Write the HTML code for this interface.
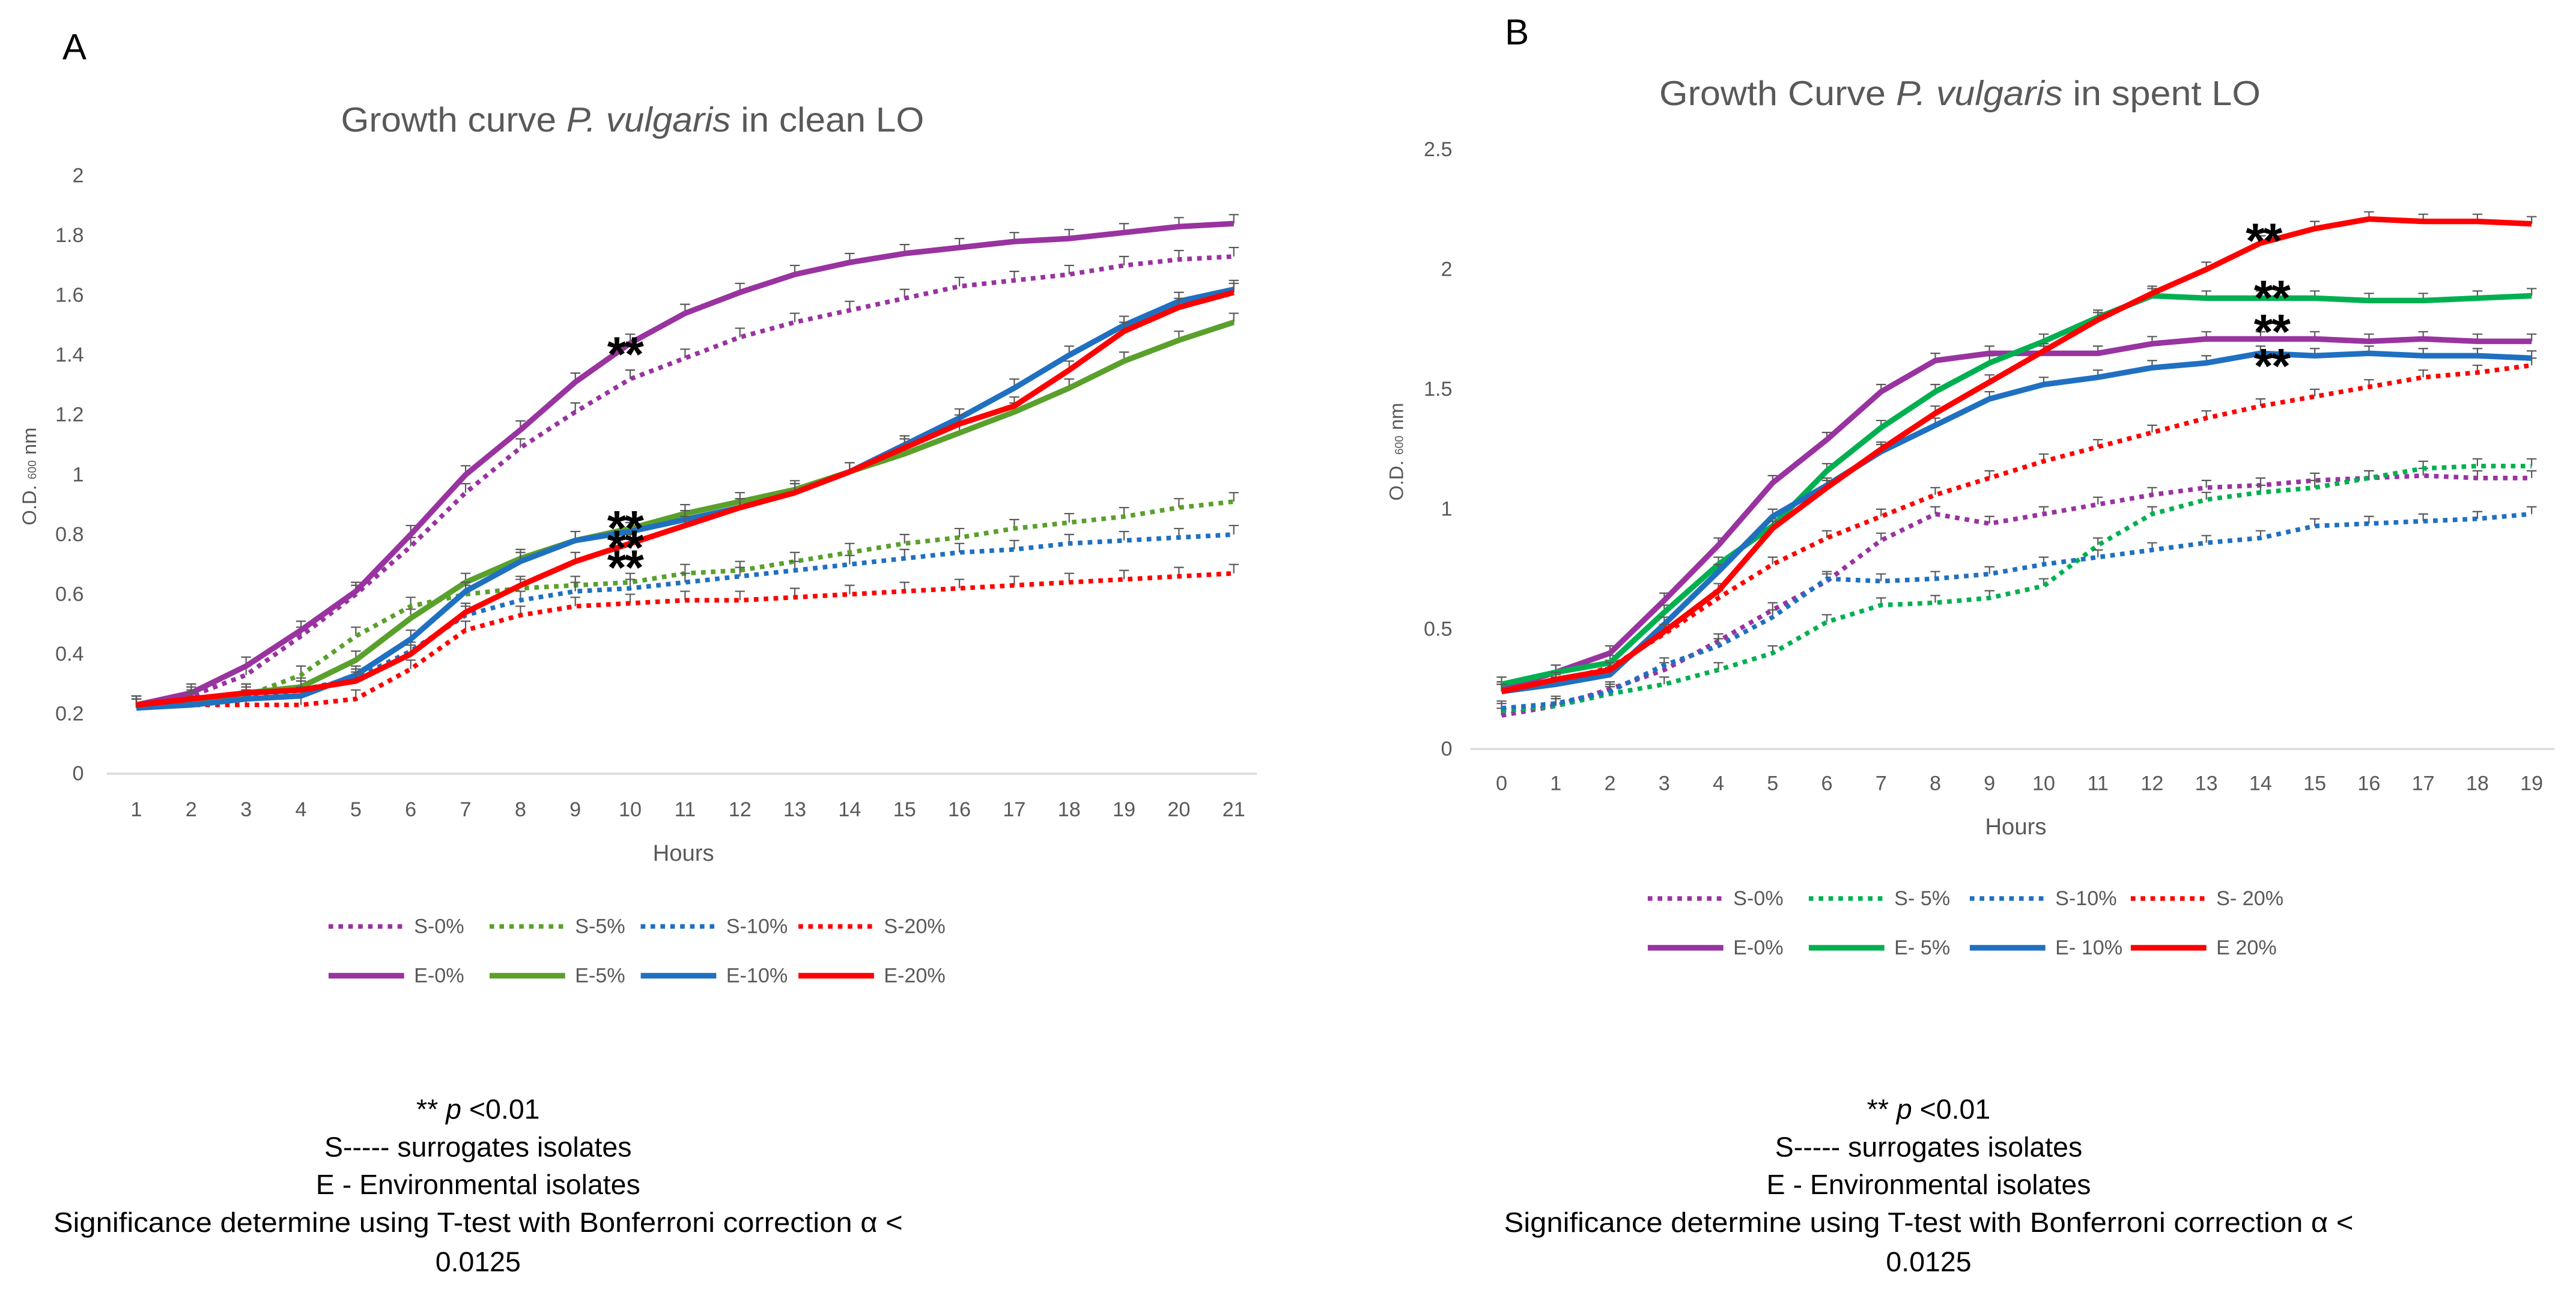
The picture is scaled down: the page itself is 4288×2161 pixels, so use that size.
<!DOCTYPE html>
<html><head><meta charset="utf-8"><style>
html,body{margin:0;padding:0;background:#fff;}
svg{display:block;}
text{font-family:"Liberation Sans",sans-serif;}
</style></head><body>
<svg id="fig" width="4288" height="2161" viewBox="0 0 1568 790.2" preserveAspectRatio="none" xmlns="http://www.w3.org/2000/svg">
<rect width="1568" height="791" fill="#fff"/>
<text x="38" y="36" font-size="22" fill="#000">A</text>
<text x="916" y="27" font-size="22" fill="#000">B</text>
<text x="385" y="80" font-size="21" fill="#595959" text-anchor="middle" textLength="355" lengthAdjust="spacingAndGlyphs">Growth curve <tspan font-style="italic">P. vulgaris</tspan> in clean LO</text>
<text x="1193" y="64" font-size="21" fill="#595959" text-anchor="middle" textLength="366" lengthAdjust="spacingAndGlyphs">Growth Curve  <tspan font-style="italic">P. vulgaris</tspan> in spent LO</text>
<text x="416" y="524" font-size="14" fill="#595959" text-anchor="middle">Hours</text>
<text x="1227" y="508" font-size="14" fill="#595959" text-anchor="middle">Hours</text>
<text transform="translate(22,290) rotate(-90)" font-size="12" fill="#595959" text-anchor="middle">O.D. <tspan font-size="7">600</tspan> nm</text>
<text transform="translate(854,275) rotate(-90)" font-size="12" fill="#595959" text-anchor="middle">O.D. <tspan font-size="7">600</tspan> nm</text>
<g id="gA"></g>
<g id="gB"></g>
<g font-size="17" fill="#000" text-anchor="middle">
<text x="291" y="681">** <tspan font-style="italic">p</tspan> &lt;0.01</text>
<text x="291" y="704">S----- surrogates isolates</text>
<text x="291" y="727">E - Environmental isolates</text>
<text x="291" y="750" textLength="517" lengthAdjust="spacingAndGlyphs">Significance determine using T-test with Bonferroni correction α &lt;</text>
<text x="291" y="774">0.0125</text>
</g>
<g font-size="17" fill="#000" text-anchor="middle">
<text x="1174" y="681">** <tspan font-style="italic">p</tspan> &lt;0.01</text>
<text x="1174" y="704">S----- surrogates isolates</text>
<text x="1174" y="727">E - Environmental isolates</text>
<text x="1174" y="750" textLength="517" lengthAdjust="spacingAndGlyphs">Significance determine using T-test with Bonferroni correction α &lt;</text>
<text x="1174" y="774">0.0125</text>
</g>
</svg>
<script>
const hoursA=[1,2,3,4,5,6,7,8,9,10,11,12,13,14,15,16,17,18,19,20,21];
const yTicksA=[0,0.2,0.4,0.6,0.8,1,1.2,1.4,1.6,1.8,2];
const yTickLabelsA=["0","0.2","0.4","0.6","0.8","1","1.2","1.4","1.6","1.8","2"];
const aS0=[.23,.26,.33,.46,.60,.76,.94,1.09,1.21,1.32,1.39,1.46,1.51,1.55,1.59,1.63,1.65,1.67,1.70,1.72,1.73];
const aS5=[.23,.24,.26,.33,.46,.56,.60,.62,.63,.64,.67,.68,.71,.74,.77,.79,.82,.84,.86,.89,.91];
const aS10=[.22,.23,.25,.28,.32,.41,.53,.58,.61,.62,.64,.66,.68,.70,.72,.74,.75,.77,.78,.79,.80];
const aS20=[.23,.23,.23,.23,.25,.35,.48,.53,.56,.57,.58,.58,.59,.60,.61,.62,.63,.64,.65,.66,.67];
const aE0=[.23,.27,.36,.48,.61,.80,1.0,1.15,1.31,1.44,1.54,1.61,1.67,1.71,1.74,1.76,1.78,1.79,1.81,1.83,1.84];
const aE5=[.22,.24,.27,.29,.38,.52,.64,.72,.78,.82,.87,.91,.95,1.01,1.07,1.14,1.21,1.29,1.38,1.45,1.51];
const aE10=[.22,.23,.25,.26,.33,.45,.61,.71,.78,.81,.85,.89,.94,1.01,1.10,1.19,1.29,1.40,1.50,1.58,1.62];
const aE20=[.23,.25,.27,.28,.31,.40,.54,.63,.71,.77,.83,.89,.94,1.01,1.09,1.17,1.23,1.35,1.48,1.56,1.61];

const hoursB=[0,1,2,3,4,5,6,7,8,9,10,11,12,13,14,15,16,17,18,19];
const yTicksB=[0,0.5,1,1.5,2,2.5];
const yTickLabelsB=["0","0.5","1","1.5","2","2.5"];
const bS0=[.14,.18,.25,.33,.45,.58,.70,.87,.98,.94,.98,1.02,1.06,1.09,1.10,1.12,1.13,1.14,1.13,1.13];
const bS5=[.16,.18,.23,.27,.33,.40,.53,.60,.61,.63,.68,.85,.98,1.04,1.07,1.09,1.13,1.17,1.18,1.18];
const bS10=[.17,.19,.24,.35,.43,.55,.71,.70,.71,.73,.77,.80,.83,.86,.88,.93,.94,.95,.96,.98];
const bS20=[.25,.28,.34,.48,.63,.77,.88,.97,1.06,1.13,1.20,1.26,1.32,1.38,1.43,1.47,1.51,1.55,1.57,1.60];
const bE0=[.25,.32,.40,.62,.85,1.11,1.29,1.49,1.62,1.65,1.65,1.65,1.69,1.71,1.71,1.71,1.70,1.71,1.70,1.70];
const bE5=[.27,.32,.36,.57,.77,.93,1.16,1.34,1.49,1.61,1.70,1.80,1.89,1.88,1.88,1.88,1.87,1.87,1.88,1.89];
const bE10=[.24,.27,.31,.52,.74,.97,1.10,1.24,1.35,1.46,1.52,1.55,1.59,1.61,1.65,1.64,1.65,1.64,1.64,1.63];
const bE20=[.24,.29,.33,.49,.66,.92,1.09,1.25,1.40,1.53,1.66,1.79,1.90,2.00,2.11,2.17,2.21,2.20,2.20,2.19];
const errSize=0.03;

const NS="http://www.w3.org/2000/svg";
function mk(tag,attrs,parent){const e=document.createElementNS(NS,tag);for(const k in attrs)e.setAttribute(k,attrs[k]);parent.appendChild(e);return e;}

function drawChart(g,cfg){
  const xs=v=>cfg.x0+(v-cfg.h0)*(cfg.x1-cfg.x0)/(cfg.h1-cfg.h0);
  const ys=v=>cfg.y0-(v)*(cfg.y0-cfg.yTop)/cfg.yMax;
  const ax=mk('line',{x1:cfg.axL,x2:cfg.axR,y1:ys(0),y2:ys(0),stroke:'#d9d9d9','stroke-width':1.2},g);
  
  
  cfg.yTicks.forEach((t,i)=>{
    const tx=mk('text',{x:cfg.yLabX,y:ys(t)+4,'font-size':12.5,fill:'#595959','text-anchor':'end'},g);
    tx.textContent=cfg.yLabels[i];
    
    
  });
  cfg.hours.forEach(h=>{
    const tx=mk('text',{x:xs(h),y:cfg.xLabY,'font-size':12.5,fill:'#595959','text-anchor':'middle'},g);
    tx.textContent=String(h);
    
    
  });
  cfg.series.forEach(s=>{
    const sg=mk('g',{},g);
    
    
    s.vals.forEach((v,i)=>{
      const x=xs(cfg.hours[i]),y1=ys(v),y2=ys(v+errSize);
      mk('path',{d:`M${x},${y1}V${y2}M${x-3},${y2}H${x+3}`,stroke:'#595959','stroke-width':0.8,fill:'none'},sg);
    });
    const d=s.vals.map((v,i)=>(i?'L':'M')+xs(cfg.hours[i]).toFixed(2)+','+ys(v).toFixed(2)).join('');
    const p=mk('path',{d:d,fill:'none',stroke:s.color,'stroke-width':s.dot?2.8:3.4,'stroke-linejoin':'round'},sg);
    if(s.dot)p.setAttribute('stroke-dasharray','2.8 3.2');
    
    
  });
  cfg.stars.forEach(st=>{
    const t=mk('text',{x:xs(st[0]),y:ys(st[1])+st[2],'font-size':30,'font-weight':'bold',fill:'#000','text-anchor':'middle','letter-spacing':'-1'},g);
    t.textContent='**';
    
    
  });
  cfg.legend.forEach(l=>{
    const lg=mk('g',{},g);
    
    
    const ln=mk('line',{x1:l.x,x2:l.x+46,y1:l.y,y2:l.y,stroke:l.color,'stroke-width':l.dot?2.8:3.4},lg);
    if(l.dot)ln.setAttribute('stroke-dasharray','2.8 3.2');
    const tx=mk('text',{x:l.x+52,y:l.y+4,'font-size':12.5,fill:'#595959'},lg);
    tx.textContent=l.label;
  });
}
const P='#9933a0',GA='#5aa02c',GB='#00b050',BL='#1f70c1',R='#ff0000';
drawChart(document.getElementById('gA'),{
  hours:hoursA,h0:1,h1:21,x0:83,x1:751,y0:471,yTop:107,yMax:2,axL:65,axR:765,yLabX:51,xLabY:497,
  yTicks:yTicksA,yLabels:yTickLabelsA,
  series:[
    {key:'s-0',vals:aS0,color:P,dot:1},{key:'s-5',vals:aS5,color:GA,dot:1},{key:'s-10',vals:aS10,color:BL,dot:1},{key:'s-20',vals:aS20,color:R,dot:1},
    {key:'e-0',vals:aE0,color:P},{key:'e-5',vals:aE5,color:GA},{key:'e-10',vals:aE10,color:BL},{key:'e-20',vals:aE20,color:R}],
  stars:[[9.9,1.44,17],[9.9,0.82,10],[9.9,0.82,22],[9.9,0.82,34]],
  legend:[
    {key:'s-0',x:200,y:564,color:P,dot:1,label:'S-0%'},{key:'s-5',x:298,y:564,color:GA,dot:1,label:'S-5%'},
    {key:'s-10',x:390,y:564,color:BL,dot:1,label:'S-10%'},{key:'s-20',x:486,y:564,color:R,dot:1,label:'S-20%'},
    {key:'e-0',x:200,y:594,color:P,label:'E-0%'},{key:'e-5',x:298,y:594,color:GA,label:'E-5%'},
    {key:'e-10',x:390,y:594,color:BL,label:'E-10%'},{key:'e-20',x:486,y:594,color:R,label:'E-20%'}]
});
drawChart(document.getElementById('gB'),{
  hours:hoursB,h0:0,h1:19,x0:914,x1:1541,y0:456,yTop:91,yMax:2.5,axL:895,axR:1555,yLabX:884,xLabY:481,
  yTicks:yTicksB,yLabels:yTickLabelsB,
  series:[
    {key:'s-0',vals:bS0,color:P,dot:1},{key:'s-5',vals:bS5,color:GB,dot:1},{key:'s-10',vals:bS10,color:BL,dot:1},{key:'s-20',vals:bS20,color:R,dot:1},
    {key:'e-0',vals:bE0,color:P},{key:'e-5',vals:bE5,color:GB},{key:'e-10',vals:bE10,color:BL},{key:'e-20',vals:bE20,color:R}],
  stars:[[14.05,2.11,9],[14.2,1.88,10],[14.2,1.71,6],[14.2,1.65,18]],
  legend:[
    {key:'s-0',x:1003,y:547,color:P,dot:1,label:'S-0%'},{key:'s-5',x:1101,y:547,color:GB,dot:1,label:'S- 5%'},
    {key:'s-10',x:1199,y:547,color:BL,dot:1,label:'S-10%'},{key:'s-20',x:1297,y:547,color:R,dot:1,label:'S- 20%'},
    {key:'e-0',x:1003,y:577,color:P,label:'E-0%'},{key:'e-5',x:1101,y:577,color:GB,label:'E- 5%'},
    {key:'e-10',x:1199,y:577,color:BL,label:'E- 10%'},{key:'e-20',x:1297,y:577,color:R,label:'E 20%'}]
});
</script>
</body></html>
